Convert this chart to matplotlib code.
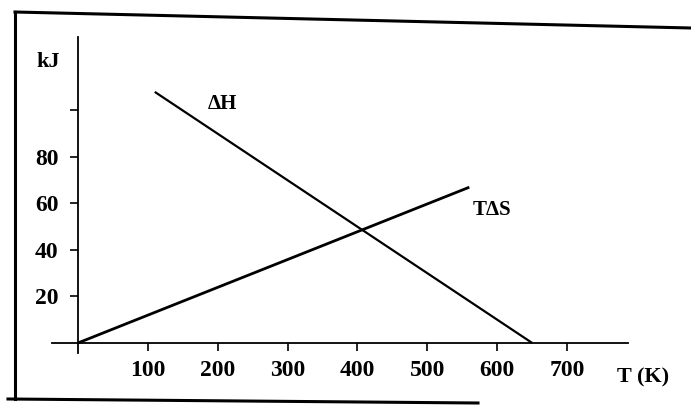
import matplotlib
matplotlib.use("Agg")
import matplotlib.pyplot as plt
from matplotlib.lines import Line2D

# data
dh_T = [110, 650]
dh_kj = [108, 0]
tds_T = [0, 560]
tds_kj = [0, 67]

x_ticks = [100, 200, 300, 400, 500, 600, 700]
x_labels = ["100", "200", "300", "400", "500", "600", "700"]
y_ticks = [20, 40, 60, 80, 100]
y_labels = ["20", "40", "60", "80", ""]

W, H = 691, 407
plt.rcParams["font.family"] = ["Liberation Serif", "DejaVu Serif"]
plt.rcParams["font.weight"] = "bold"

fig = plt.figure(figsize=(W / 100, H / 100), dpi=100)
fig.patch.set_facecolor("white")

# axes box in pixels: left 52, right 628, top 37, bottom 353
ax = fig.add_axes([52 / W, (H - 353) / H, 576 / W, 316 / H])
ax.set_xlim(-37, 787)
ax.set_ylim(-4.3, 131.6)
ax.patch.set_alpha(0)

for s in ("top", "right"):
    ax.spines[s].set_visible(False)
ax.spines["left"].set_position(("data", 0))
ax.spines["bottom"].set_position(("data", 0))
for s in ("left", "bottom"):
    ax.spines[s].set_linewidth(1.3)

ax.plot(dh_T, dh_kj, color="black", lw=1.6, solid_capstyle="butt")
ax.plot(tds_T, tds_kj, color="black", lw=2.0, solid_capstyle="butt")

ax.set_xticks(x_ticks)
ax.set_xticklabels(x_labels)
ax.set_yticks(y_ticks)
ax.set_yticklabels(y_labels)
ax.tick_params(axis="both", direction="out", length=6, width=1.2,
               labelsize=17, pad=8)
ax.tick_params(axis="x", pad=6)

ax.text(207, 103, "ΔH", fontsize=15, fontweight="bold", va="center", ha="center")
ax.text(592, 57, "TΔS", fontsize=15, fontweight="bold", va="center", ha="center")
ax.text(-43, 121, "kJ", fontsize=16, fontweight="bold", va="center", ha="center")
ax.text(808, -15, "T (K)", fontsize=16, fontweight="bold", va="center", ha="center",
        clip_on=False)

# scanned page frame
def px_line(x0, y0, x1, y1):
    fig.add_artist(Line2D([x0 / W, x1 / W], [1 - y0 / H, 1 - y1 / H],
                          color="black", lw=2.2, transform=fig.transFigure))

px_line(15, 12, 691, 28)
px_line(15, 12, 15, 399)
px_line(8, 399, 478, 403)

fig.savefig("out.png", dpi=100, facecolor="white")
